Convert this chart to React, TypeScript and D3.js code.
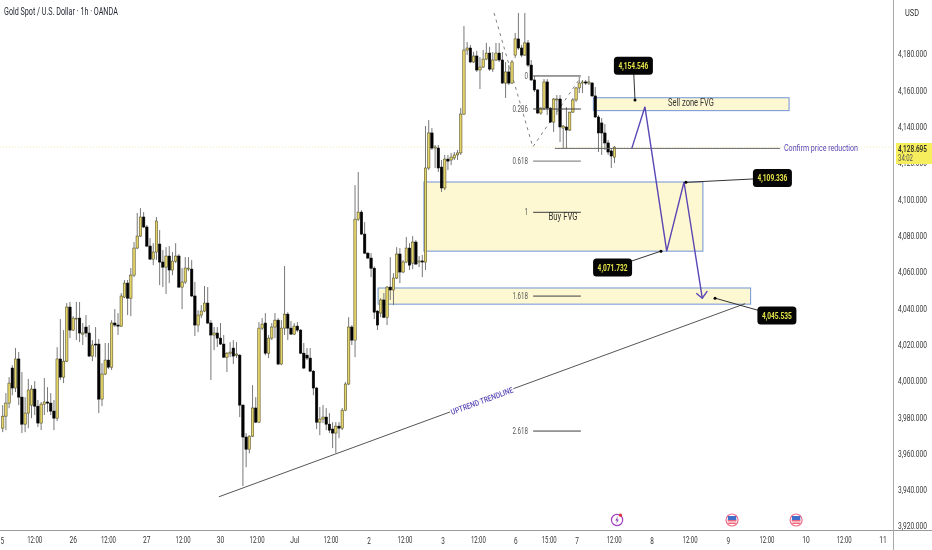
import React from "react";
import * as d3 from "d3";

const opens = [3973.9,3980.5,3987.7,4007,3996,4012,3991,3976.1,3982.2,3986.6,3995.4,3986,3976.7,3987.1,3988.3,3987.7,3983.3,3979.4,4012,4002,4010.8,4040.6,4027.9,4034,4034.5,4025.7,4029.6,4026.3,4013.6,4020.2,4020.2,3989.9,4003.7,4011.4,4007.5,4031.8,4030.7,4030.1,4046.1,4053.8,4045.5,4058.2,4073.1,4079.7,4090.2,4084.7,4074.2,4067,4070.9,4075.3,4065.4,4062.6,4068.7,4061,4065.9,4068.7,4051.6,4054.4,4061.5,4061.5,4046.7,4030.7,4036.2,4038.4,4042.8,4031.8,4025.2,4026.3,4023.5,4020.2,4013,4015.2,4018,4014.1,4014.1,3986.6,3969,3962.3,3969.5,3985,3977.2,4029,4031.8,4015.2,4023.5,4029.6,4033.4,4009.2,4029,4036.7,4029,4025.7,4030.1,4027.9,4015.2,4014.1,4012.5,4005.3,3996,3977.2,3978.9,3980,3976.1,3973.4,3971.2,3975,3973.9,3983.8,3998.2,4029.6,4022.4,4089,4092.9,4080.8,4070.3,4067.6,4062,4038.4,4037.3,4044.5,4035,4051.6,4050,4056.6,4069.8,4059.9,4065.4,4073.1,4064.8,4076.4,4065.4,4066,4065.4,4117.2,4136.5,4128.2,4128.2,4117.7,4106.2,4122.1,4121.6,4122.7,4124.4,4125.5,4146.9,4182.2,4183.3,4175.6,4178.9,4171.2,4172.8,4177.2,4180.5,4171.7,4176.7,4180.5,4176.7,4164,4170.1,4164,4179.4,4188.3,4183.3,4179.4,4186.1,4173.9,4165.7,4160.2,4147.5,4150.2,4164.6,4150.2,4142.5,4154.7,4155.2,4139.2,4139.8,4138.1,4148,4154.7,4161.3,4164,4164.6,4164,4164,4156.9,4145.3,4142,4136.5,4131,4126.6,4123.2];
const highs = [3986.6,3993.2,4002,4008.6,4018,4015.8,4004.8,3991,4001,3997.6,3999.8,3989.4,3988.3,4001.5,3996.5,3993.2,3989.4,4018.5,4034,4027.9,4042.8,4043.4,4035.6,4043.4,4043.4,4031.8,4036.2,4030.7,4022.4,4029.6,4023,4009.7,4020.8,4020.8,4033.4,4039.5,4037.3,4048.3,4055.5,4055.5,4062.1,4076.4,4092.4,4095.1,4092.9,4085.8,4078.6,4075.8,4090.2,4083,4072,4073.6,4074.2,4070.9,4075.8,4069.8,4062.1,4068.1,4068.1,4066.5,4054.4,4038.9,4041.7,4052.2,4051.6,4033.4,4029.6,4029.6,4031.8,4025.2,4015.8,4021.3,4022.4,4021.3,4014.7,3987,3971.2,3970,3997.6,3991,4032.3,4034.5,4037.3,4025.2,4031.8,4037.3,4034.5,4033.4,4063.2,4037.8,4032.9,4031.8,4032.3,4028.5,4020.8,4018,4018,4005.9,3996.5,3985.5,3986.6,3984.9,3982.2,3977.2,3977.2,3977.2,3985,3999.3,4035,4030.7,4107.8,4115,4094,4087.4,4070.9,4070.3,4063,4038.9,4045.5,4048.3,4052.2,4068.1,4059.3,4073.6,4073.1,4066.5,4079.2,4075.8,4079.7,4077.5,4068.7,4069.3,4140.3,4143.6,4139.2,4129.9,4129.9,4121.6,4124.4,4124.4,4125.5,4126,4127.1,4150.2,4195.4,4186.6,4185,4181.1,4181.7,4178.3,4182.2,4186.1,4184,4181.1,4186.1,4186.1,4181.1,4175.6,4173.9,4176.7,4191.6,4202.6,4185,4202.6,4187.7,4176.7,4167.9,4160.7,4150.7,4166.2,4166.2,4150.7,4155.8,4157.4,4157.4,4140.9,4150.7,4148,4155.8,4161.8,4167.3,4165.7,4165.7,4167.9,4164.6,4161.8,4146.4,4144.7,4141.4,4132.6,4128.2,4129.3];
const lows = [3971.7,3972.8,3984.9,3992,3993.8,3986.6,3971.2,3971.7,3973.9,3979.4,3981.1,3974.5,3972.8,3981.1,3982.7,3981.1,3972.8,3977.8,4000.4,3998.7,4010.3,4023.5,4027.4,4022.4,4021.3,4019.7,4024,4013,4010.8,4013,3982.2,3986,4003.1,4006.4,4005.9,4029.6,4025.2,4029.6,4045.5,4036.2,4035.6,4057.1,4072.5,4079.2,4084.1,4073.6,4066.5,4063.7,4066.5,4052.7,4051.6,4047.8,4053.8,4058.2,4064.8,4051.1,4039.5,4053.3,4060.4,4046.1,4024.6,4026.8,4034.5,4037.8,4031.2,4000.4,4016.9,4018.6,4019.7,4012.5,4004.8,4013,4009.2,4012.5,3980,3942,3952.4,3960,3969,3976.7,3976.7,4027.9,4014.1,4012.5,4022.4,4023.5,4008.6,4008.6,4025.2,4022.4,4025.2,4025.2,4026.8,4014.7,4006.4,4011.4,4004.8,3992,3973.4,3970,3976.7,3972.8,3971.2,3962.9,3960.2,3968.4,3972.8,3983.3,3997.6,4019.7,4013,4088,4080.3,4069.8,4067,4057.1,4034,4027.9,4035,4034.5,4030.7,4044.5,4041.7,4056,4053.8,4059.3,4064.8,4061,4061.5,4063.7,4062.6,4057.1,4061,4116.1,4127.1,4117.2,4115,4104,4105,4116,4118.8,4121.6,4121.6,4124.4,4146.4,4179.4,4175,4175,4170.1,4160.7,4172.3,4176.7,4170.7,4170.1,4176.1,4175.6,4163.5,4155.8,4162.9,4163.5,4177.8,4182.2,4178.3,4178.9,4172.8,4165.1,4159,4146.9,4146.4,4149.1,4146.4,4142,4137,4146.4,4131.5,4128.2,4128.2,4137.6,4147.5,4153.6,4158.5,4158.5,4162.9,4162.9,4156.3,4144.7,4126,4124.4,4127.1,4124.4,4117.2,4119.9];
const closes = [3980.5,3987.7,3998.7,3996,4012,3991,3976.1,3982.2,3994.9,3995.4,3986,3976.7,3987.1,3988.3,3987.7,3983.3,3979.4,4012,4002,4010.8,4040.6,4027.9,4034.5,4034.5,4026.3,4026.3,4026.3,4013.6,4019.7,4019.7,3989.9,4003.7,4011.4,4007.5,4031.8,4030.7,4030.1,4046.7,4053.8,4045.5,4058.2,4073.1,4079.7,4090.2,4084.7,4074.2,4067,4070.9,4088,4065.4,4062.6,4068.7,4061,4065.9,4068.7,4051.6,4054.4,4062.1,4062.1,4046.7,4030.7,4036.2,4038.4,4042.8,4031.8,4025.2,4026.3,4023.5,4020.2,4013,4015.2,4015.8,4013.6,4014.7,3986.6,3969,3962.3,3969.5,3985,3977.2,4029,4031.2,4015.2,4023.5,4029.6,4033.4,4009.2,4029,4036.7,4029,4025.7,4030.1,4027.9,4015.2,4007,4012.5,4005.3,3996,3977.2,3978.9,3980,3976.1,3972.8,3971.2,3975,3973.9,3983.8,3998.2,4029.6,4022.4,4089,4092.9,4080.8,4070.3,4067.6,4062,4037.8,4030.7,4044.5,4035,4051.6,4050,4056.6,4069.8,4059.9,4065.4,4073.1,4063.7,4076.4,4064.3,4066,4065.4,4117.2,4136.5,4128.2,4128.8,4117.2,4106.2,4122.1,4121,4123.2,4124.4,4125.5,4146.9,4182.2,4183.3,4175.6,4178.9,4171.2,4172.8,4177.2,4180.5,4171.7,4176.7,4180.5,4176.7,4164,4170.1,4164,4175.6,4188.3,4183.3,4179.4,4186.1,4173.9,4165.7,4160.2,4147.5,4150.2,4164.6,4150.2,4142.5,4155.2,4155.2,4139.8,4140.3,4138.1,4148,4154.7,4161.3,4164,4164.6,4164,4164.6,4156.9,4145.3,4136.5,4136.5,4131,4126,4123.8,4128.7];

const priceTicks = [4180,4160,4140,4120,4100,4080,4060,4040,4020,4000,3980,3960,3940,3920];
const timeLabels = ["5","12:00","26","12:00","27","12:00","30","12:00","Jul","12:00","2","12:00","3","12:00","6","15:00","7","12:00","8","12:00","9","12:00","10","12:00","11"];
const timeBars = [-0.3,10,22,33,45,56.3,68,79.4,91.2,102.5,114.4,125.6,137.5,148.5,160.2,170.6,179.3,190.9,202.7,214.6,226.5,238.6,250.8,262.7,274.8];

const zoneBars = [[184.4,245.5],[131.5,218.6],[117.2,233.5]];
const zonePrices = [[4155.9,4148.8],[4109.5,4071.4],[4051.1,4042.2]];
const fibLabels = ["0","0.236","0.618","1","1.618","2.618"];
const fibPrices = [4167.9,4149.7,4121,4092.8,4046.65,3972.3];
const fibBars = [165.6,180.5];
const trendBars = [67.5,231.8];
const trendPrices = [3936.1,4042.5];
const dashBars = [153.4,165.5,180.5];
const dashPrices = [4202.6,4128.8,4167.3];
const planBars = [196.4,200.5,207.3,212.7,218.4];
const planPrices = [4128,4150.9,4071.4,4109.5,4045.5];
const confirmBars = [172.4,242.7];
const confirmPrice = 4128;
const calloutText = ["4,154.546","4,109.336","4,071.732","4,045.535"];
const calloutBars = [196.9,240.3,190.4,241.7];
const calloutPrices = [4173.5,4111.7,4062.4,4035.9];
const calloutDotBars = [197.4,213.3,205.5,222.4];
const calloutDotPrices = [4154.7,4109.3,4071.4,4045.5];
const flagBars = [227.7,247.7];
const boltBar = 191.8;
const lastPrice = 4128.695;

const x = d3.scaleLinear().domain([0, 191]).range([2.7, 614.5]);
const y = d3.scaleLinear().domain([3920, 4180]).range([526, 54]);
const fmt = d3.format(",.3f");

const FONT = "Roboto, 'Liberation Sans', sans-serif";
const PURPLE = "#5a46b4";
const BLUE = "#6f93d6";
const ZONE = "#fdf8d2";

const ctx = document.createElement("canvas").getContext("2d")!;
function measure(s: string, size: number, weight: number) {
  ctx.font = `${weight} ${size}px Roboto`;
  return ctx.measureText(s).width;
}

function T(p: any) {
  const { children, len, px, py, angle = 0, fontSize, fontWeight = 400, textAnchor = "start", ...rest } = p;
  const sx = len / measure(String(children), fontSize, fontWeight);
  return (
    <text
      fontFamily={FONT}
      fontSize={fontSize}
      fontWeight={fontWeight}
      textAnchor={textAnchor}
      dominantBaseline="central"
      transform={`translate(${px} ${py}) rotate(${angle}) scale(${sx} 1)`}
      {...rest}
    >
      {children}
    </text>
  );
}

function Flag({ cx }: { cx: number }) {
  const cy = 520;
  return (
    <g>
      <circle cx={cx} cy={cy} r={6} fill="#fff" stroke="#f0708a" strokeWidth={1.2} />
      <rect x={cx - 4.2} y={cy - 4} width={8.4} height={4} fill="#3f6fc8" />
      <rect x={cx - 4.4} y={cy + 0.2} width={8.8} height={1.2} fill="#e8405a" />
      <rect x={cx - 3.8} y={cy + 2.6} width={7.6} height={1.2} fill="#e8405a" />
    </g>
  );
}

export default function App() {
  const planLine = d3.line<number>().x((b) => x(b)).y((_, i) => y(planPrices[i]));
  const dashLine = d3.line<number>().x((b) => x(b)).y((_, i) => y(dashPrices[i]));
  const tipX = x(planBars[4]);
  const tipY = y(planPrices[4]);
  return (
    <svg width={932} height={550} style={{ position: "fixed", left: 0, top: 0, display: "block", background: "#fff", filter: "blur(0.3px)" }}>
      <line x1={0} x2={893} y1={y(lastPrice)} y2={y(lastPrice)} stroke="#f3e9a0" strokeWidth={0.8} strokeDasharray="1 2" />

      {zoneBars.map((b, i) => (
        <rect key={i} x={x(b[0])} y={y(zonePrices[i][0])} width={x(b[1]) - x(b[0])} height={y(zonePrices[i][1]) - y(zonePrices[i][0])} fill={ZONE} stroke={BLUE} strokeWidth={1} />
      ))}

      <path d={dashLine(dashBars) ?? ""} fill="none" stroke="#808080" strokeWidth={1} strokeDasharray="3 4" />

      {opens.map((o, i) => {
        const c = closes[i];
        const up = c >= o;
        const top = y(Math.max(o, c));
        const bot = y(Math.min(o, c));
        return (
          <g key={i}>
            <line x1={x(i)} x2={x(i)} y1={y(highs[i])} y2={y(lows[i])} stroke="#787878" strokeWidth={1} />
            <rect x={x(i) - 1.2} width={2.4} y={top} height={Math.max(bot - top, 0.8)} fill={up ? "#e6d468" : "#000"} stroke={up ? "#4a4a28" : "#000"} strokeWidth={0.55} />
          </g>
        );
      })}

      {fibPrices.map((p, i) => (
        <g key={i}>
          <line x1={x(fibBars[0])} x2={x(fibBars[1])} y1={y(p)} y2={y(p)} stroke={i === 2 ? "#707070" : "#3c3c3c"} strokeWidth={1} />
          <T px={528} py={y(p)} textAnchor="end" fontSize={9.5} fill="#555" len={fibLabels[i].length === 1 ? 3.5 : 15.5}>{fibLabels[i]}</T>
        </g>
      ))}

      <line x1={x(confirmBars[0])} x2={x(confirmBars[1])} y1={y(confirmPrice)} y2={y(confirmPrice)} stroke="#666" strokeWidth={1} />
      <line x1={x(trendBars[0])} x2={x(trendBars[1])} y1={y(trendPrices[0])} y2={y(trendPrices[1])} stroke="#555" strokeWidth={1} />

      <path d={planLine(planBars) ?? ""} fill="none" stroke={PURPLE} strokeWidth={1.4} />
      <path d={`M${tipX - 6},${tipY - 5}L${tipX},${tipY}L${tipX + 5},${tipY - 7}`} fill="none" stroke={PURPLE} strokeWidth={1.4} />

      <T px={691} py={103} textAnchor="middle" fontSize={10} fill="#333" len={46}>Sell zone FVG</T>
      <T px={563} py={217} textAnchor="middle" fontSize={10} fill="#333" len={29}>Buy FVG</T>
      <T px={784} py={148} fontSize={9.5} fill={PURPLE} len={74}>Confirm price reduction</T>
      <T px={482} py={401} angle={-20.2} textAnchor="middle" fontSize={8} fontWeight={500} fill={PURPLE} len={66} stroke="#fff" strokeWidth={3} paintOrder="stroke">UPTREND TRENDLINE</T>

      {calloutText.map((s, i) => {
        const cx = x(calloutBars[i]);
        const cy = y(calloutPrices[i]);
        return (
          <g key={i}>
            <line x1={x(calloutDotBars[i])} y1={y(calloutDotPrices[i])} x2={cx} y2={cy} stroke="#333" strokeWidth={1} />
            <circle cx={x(calloutDotBars[i])} cy={y(calloutDotPrices[i])} r={1.5} fill="#000" />
            <rect x={cx - 19.5} y={cy - 9} width={39} height={18} rx={3.5} fill="#060606" />
            <T px={cx} py={cy} textAnchor="middle" fontSize={9.5} fontWeight={700} fill="#e6e44a" len={30}>{s}</T>
          </g>
        );
      })}

      <T px={4} py={11.5} fontSize={10.5} fill="#1e222d" len={114}>Gold Spot / U.S. Dollar · 1h · OANDA</T>

      <line x1={0} x2={932} y1={530.5} y2={530.5} stroke="#9a9a9a" strokeWidth={1} />
      <line x1={893.5} x2={893.5} y1={0} y2={550} stroke="#a8a8a8" strokeWidth={1} />

      {timeLabels.map((s, i) => (
        <T key={i} px={i === 0 ? 0.5 : x(timeBars[i])} py={540} textAnchor={i === 0 ? "start" : "middle"} fontSize={9.5} fill="#333" len={s.length >= 5 ? 15 : s === "Jul" ? 9 : s.length === 2 ? 7.5 : 3.6}>{s}</T>
      ))}

      <T px={905} py={13} fontSize={9.5} fill="#333" len={14}>USD</T>
      {priceTicks.map((p) => (
        <T key={p} px={898} py={y(p)} fontSize={9.5} fill="#333" len={29}>{fmt(p)}</T>
      ))}

      <rect x={896} y={143} width={36} height={21} fill="#f6ee5c" />
      <T px={898} py={148} fontSize={9.5} fontWeight={500} fill="#222" len={29}>{fmt(lastPrice)}</T>
      <T px={898} py={158.5} fontSize={9.5} fill="#555" len={15}>34:02</T>

      <g>
        <circle cx={x(boltBar)} cy={520} r={5.6} fill="#fff" stroke="#a040c0" strokeWidth={1.2} />
        <path d={`M${x(boltBar) + 1},${516}L${x(boltBar) - 1.8},${520.5}L${x(boltBar)},${520.5}L${x(boltBar) - 1},${524}L${x(boltBar) + 1.8},${519.5}L${x(boltBar)},${519.5}Z`} fill="#8040b0" />
        <circle cx={x(boltBar) + 3.4} cy={515.2} r={1.6} fill="#e03040" />
      </g>
      {flagBars.map((b) => <Flag key={b} cx={x(b)} />)}
    </svg>
  );
}
